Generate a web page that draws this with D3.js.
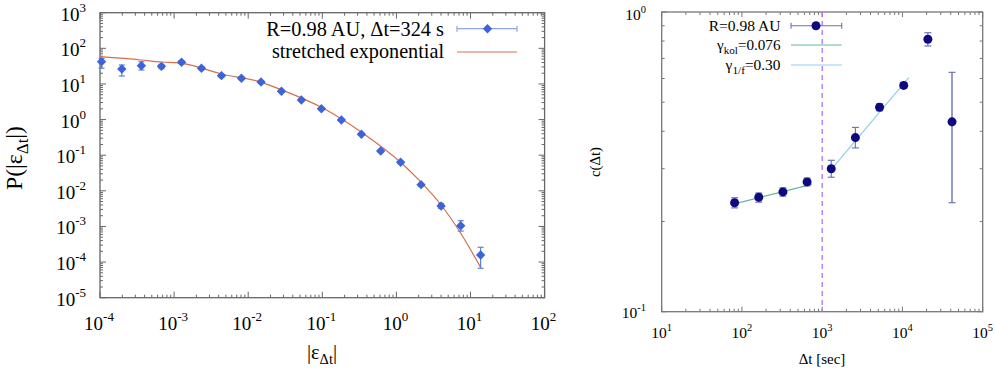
<!DOCTYPE html>
<html><head><meta charset="utf-8">
<script src="https://cdn.jsdelivr.net/npm/d3@7"></script>
<style>
body{margin:0;background:#fff}
svg{display:block}
text{font-family:"Liberation Serif","DejaVu Serif",serif;fill:#000}
</style>
</head><body>
<svg id="c" width="995" height="376" font-family="Liberation Serif, DejaVu Serif, serif"></svg>
<script>
// ---------- Left panel data: PDF of |eps_dt| ----------
const epsVal = [1.05e-4,1.97e-4,3.62e-4,6.75e-4,1.26e-3,2.34e-3,4.36e-3,8.1e-3,1.49e-2,2.81e-2,5.22e-2,9.73e-2,0.181,0.337,0.614,1.14,2.15,4.01,7.38,13.7];
const pdfVal = [42.2,26.3,32.5,31.2,40.6,27.5,17.1,14.4,11.3,6.22,3.54,2.02,0.973,0.386,0.131,0.0632,0.0149,0.00375,0.00105,0.000158];
const pdfLo  = [27.6,16.7,24.7,27.0,37.0,25.0,15.8,13.3,10.5,5.8,3.3,1.88,0.91,0.36,0.121,0.058,0.0137,0.0032,0.00074,0.000067];
const pdfHi  = [52.0,34.0,42.0,35.5,44.5,30.0,18.5,15.6,12.2,6.7,3.8,2.17,1.04,0.415,0.141,0.068,0.0161,0.0044,0.00145,0.00026];
// stretched exponential curve
const fitEps = [1e-4,3.6e-4,6.75e-4,1.28e-3,4.36e-3,1.48e-2,2.87e-2,9.73e-2,0.330,1.18,2.18,4.01,7.38,13.7];
const fitPdf = [58.2,47.0,41.3,38.0,19.0,11.3,6.76,2.21,0.457,0.0593,0.0169,0.0040,6.43e-4,7.1e-5];
const leftXExp = [-4,-3,-2,-1,0,1,2];
const leftYExp = [-5,-4,-3,-2,-1,0,1,2,3];
const leftLegend = ["R=0.98 AU, \u0394t=324 s", "stretched exponential"];

// ---------- Right panel data: c(dt) ----------
const dtVal = [81,162,324,648,1296,2592,5184,10368,20736,41472];
const cVal  = [0.231,0.241,0.251,0.271,0.300,0.381,0.481,0.569,0.811,0.430];
const cLo   = [0.222,0.232,0.243,0.263,0.281,0.352,0.468,0.556,0.770,0.231];
const cHi   = [0.240,0.249,0.259,0.279,0.320,0.412,0.494,0.582,0.853,0.629];
const kolDt = [81,740];   const kolC = [0.229,0.266];
const oneFDt = [1276,11970]; const oneFC = [0.297,0.604];
const breakDt = 1000;
const rightXExp = [1,2,3,4,5];
const rightYExp = [-1,0];

// ---------- helpers ----------
const svg = d3.select("#c");
function minorVals(domain){
  const out=[];
  const lo=Math.floor(Math.log10(domain[0])), hi=Math.ceil(Math.log10(domain[1]));
  for(let d=lo; d<hi; d++) for(let k=2;k<=9;k++){const v=k*Math.pow(10,d); if(v>domain[0]&&v<domain[1]) out.push(v);}
  return out;
}
function frame(g,x,y,majX,majY,minX,minY,lenMaj,lenMin,col){
  const [x0,x1]=x.range(), [y0,y1]=y.range();
  const ticks=g.append("g").attr("stroke",col).attr("stroke-width",1);
  const vt=(v,len)=>{const px=x(v);
    ticks.append("line").attr("x1",px).attr("x2",px).attr("y1",y0).attr("y2",y0-len);
    ticks.append("line").attr("x1",px).attr("x2",px).attr("y1",y1).attr("y2",y1+len);};
  const ht=(v,len)=>{const py=y(v);
    ticks.append("line").attr("y1",py).attr("y2",py).attr("x1",x0).attr("x2",x0+len);
    ticks.append("line").attr("y1",py).attr("y2",py).attr("x1",x1).attr("x2",x1-len);};
  minX.forEach(v=>vt(v,lenMin)); majX.forEach(v=>vt(v,lenMaj));
  minY.forEach(v=>ht(v,lenMin)); majY.forEach(v=>ht(v,lenMaj));
  g.append("rect").attr("x",x0).attr("y",y1).attr("width",x1-x0).attr("height",y0-y1)
    .attr("fill","none").attr("stroke",col).attr("stroke-width",1.3);
}
function powLabel(g,xp,yp,exp,size,supSize,supDy,anchor){
  const t=g.append("text").attr("x",xp).attr("y",yp).attr("text-anchor",anchor).style("font-size",size+"px");
  t.append("tspan").text("10");
  t.append("tspan").attr("dy",-supDy).style("font-size",supSize+"px").text(String(exp));
  return t;
}
// scale a text (and its tspans) so its natural width equals target
function fit(t,target){
  const w=t.node().getBBox().width; if(!w) return t;
  const f=target/w;
  t.selectAll("tspan").each(function(){
    const s=parseFloat(this.style.fontSize); if(s) this.style.fontSize=(s*f)+"px";
    const dy=this.getAttribute("dy"); if(dy) this.setAttribute("dy",parseFloat(dy)*f);
  });
  t.style("font-size",(parseFloat(t.style("font-size"))*f)+"px");
  return t;
}

// ================= LEFT PANEL =================
const L = svg.append("g");
const lx = d3.scaleLog().domain([1e-4,1e2]).range([100,544.6]);
const ly = d3.scaleLog().domain([1e-5,1e3]).range([297.7,12.7]);
frame(L,lx,ly,leftXExp.map(e=>Math.pow(10,e)),leftYExp.map(e=>Math.pow(10,e)),
      minorVals(lx.domain()),minorVals(ly.domain()),6,3,"#666");

leftXExp.forEach(e=>powLabel(L,lx(Math.pow(10,e))-1,330,e,19,13,9,"middle"));
leftYExp.forEach(e=>powLabel(L,86,ly(Math.pow(10,e))+8,e,19,13,9,"end"));

// axis titles
{
  const t=L.append("text").attr("transform","translate(22,158) rotate(-90)")
    .attr("text-anchor","middle").style("font-size","21px");
  t.append("tspan").text("P(|\u03b5");
  t.append("tspan").attr("dy",5).style("font-size","15px").text("\u0394t");
  t.append("tspan").attr("dy",-5).text("|)");
  fit(t,64);
  const u=L.append("text").attr("x",322).attr("y",359).attr("text-anchor","middle").style("font-size","21px");
  u.append("tspan").text("|\u03b5");
  u.append("tspan").attr("dy",5).style("font-size","15px").text("\u0394t");
  u.append("tspan").attr("dy",-5).text("|");
  fit(u,30);
}

// fit curve
const lineL = d3.line().x(d=>lx(d[0])).y(d=>ly(d[1])).curve(d3.curveMonotoneX);
L.append("path").datum(fitEps.map((v,i)=>[v,fitPdf[i]])).attr("d",lineL)
  .attr("fill","none").attr("stroke","#d66e4e").attr("stroke-width",1.2);

// error bars
const errL = L.append("g").attr("stroke","#5b80e0").attr("stroke-width",1.2);
epsVal.forEach((v,i)=>{
  const px=lx(v);
  errL.append("line").attr("x1",px).attr("x2",px).attr("y1",ly(pdfLo[i])).attr("y2",ly(pdfHi[i]));
  [pdfLo[i],pdfHi[i]].forEach(w=>errL.append("line").attr("x1",px-3).attr("x2",px+3).attr("y1",ly(w)).attr("y2",ly(w)));
});
const diamond = d3.symbol().type(d3.symbolDiamond2).size(56);
epsVal.forEach((v,i)=>{
  L.append("path").attr("d",diamond).attr("transform",`translate(${lx(v)},${ly(pdfVal[i])})`).attr("fill","#3c63d8");
});

// legend
fit(L.append("text").attr("x",444).attr("y",35.5).attr("text-anchor","end").style("font-size","20px").text(leftLegend[0]),178);
fit(L.append("text").attr("x",444).attr("y",58).attr("text-anchor","end").style("font-size","20px").text(leftLegend[1]),172.6);
{
  const lg=L.append("g").attr("stroke","#8ea6ec").attr("stroke-width",1.2);
  lg.append("line").attr("x1",457).attr("x2",517).attr("y1",28.7).attr("y2",28.7);
  lg.append("line").attr("x1",457).attr("x2",457).attr("y1",25.7).attr("y2",31.7);
  lg.append("line").attr("x1",517).attr("x2",517).attr("y1",25.7).attr("y2",31.7);
  L.append("path").attr("d",diamond).attr("transform","translate(487.5,28.7)").attr("fill","#3c63d8");
  L.append("line").attr("x1",457).attr("x2",517).attr("y1",52).attr("y2",52).attr("stroke","#d66e4e").attr("stroke-width",1.2);
}

// ================= RIGHT PANEL =================
const R = svg.append("g");
const rx = d3.scaleLog().domain([10,1e5]).range([661.7,982.7]);
const ry = d3.scaleLog().domain([0.1,1]).range([311.7,12]);
frame(R,rx,ry,rightXExp.map(e=>Math.pow(10,e)),rightYExp.map(e=>Math.pow(10,e)),
      minorVals(rx.domain()),minorVals(ry.domain()),5,3,"#777");

rightXExp.forEach(e=>powLabel(R,rx(Math.pow(10,e)),338,e,15.5,10.5,7,"middle"));
rightYExp.forEach(e=>powLabel(R,646,ry(Math.pow(10,e))+(e===0?8:6.5),e,15.5,10.5,7,"end"));

fit(R.append("text").attr("transform","translate(600,162) rotate(-90)").attr("text-anchor","middle")
  .style("font-size","15px").text("c(\u0394t)"),30);
fit(R.append("text").attr("x",822).attr("y",364).attr("text-anchor","middle").style("font-size","15px").text("\u0394t [sec]"),46.7);

// vertical dashed line
R.append("line").attr("x1",rx(breakDt)).attr("x2",rx(breakDt)).attr("y1",ry(1)).attr("y2",ry(0.1))
  .attr("stroke","#b56cff").attr("stroke-width",1.3).attr("stroke-dasharray","5,4");

// fit lines
const lineR = d3.line().x(d=>rx(d[0])).y(d=>ry(d[1]));
R.append("path").datum(kolDt.map((v,i)=>[v,kolC[i]])).attr("d",lineR).attr("fill","none").attr("stroke","#62b996").attr("stroke-width",1.2);
R.append("path").datum(oneFDt.map((v,i)=>[v,oneFC[i]])).attr("d",lineR).attr("fill","none").attr("stroke","#8fcdef").attr("stroke-width",1.2);

// error bars
const errR = R.append("g").attr("stroke","#7474bb").attr("stroke-width",1.2);
dtVal.forEach((v,i)=>{
  const px=rx(v);
  errR.append("line").attr("x1",px).attr("x2",px).attr("y1",ry(cLo[i])).attr("y2",ry(cHi[i]))
    .attr("stroke-width", i===dtVal.length-1?2:1.2).attr("stroke", i===dtVal.length-1?"#9a9ad2":"#7474bb");
  [cLo[i],cHi[i]].forEach(w=>errR.append("line").attr("x1",px-3.5).attr("x2",px+3.5).attr("y1",ry(w)).attr("y2",ry(w)));
});
dtVal.forEach((v,i)=>{
  R.append("circle").attr("cx",rx(v)).attr("cy",ry(cVal[i])).attr("r",4.5).attr("fill","#0c0a7e");
});

// legend
{
  fit(R.append("text").attr("x",780.5).attr("y",30.5).attr("text-anchor","end").style("font-size","15px").text("R=0.98 AU"),72);
  const t2=R.append("text").attr("x",780.5).attr("y",50).attr("text-anchor","end").style("font-size","15px");
  t2.append("tspan").text("\u03b3");
  t2.append("tspan").attr("dy",4).style("font-size","11px").text("kol");
  t2.append("tspan").attr("dy",-4).text("=0.076");
  fit(t2,65);
  const t3=R.append("text").attr("x",780.5).attr("y",70).attr("text-anchor","end").style("font-size","15px");
  t3.append("tspan").text("\u03b3");
  t3.append("tspan").attr("dy",4).style("font-size","11px").text("1/f");
  t3.append("tspan").attr("dy",-4).text("=0.30");
  fit(t3,56);
  const lg=R.append("g").attr("stroke","#6d6db8").attr("stroke-width",1.1);
  lg.append("line").attr("x1",791).attr("x2",841.7).attr("y1",25.7).attr("y2",25.7);
  lg.append("line").attr("x1",791).attr("x2",791).attr("y1",22.7).attr("y2",28.7);
  lg.append("line").attr("x1",841.7).attr("x2",841.7).attr("y1",22.7).attr("y2",28.7);
  R.append("circle").attr("cx",816).attr("cy",25.7).attr("r",4.5).attr("fill","#0c0a7e");
  R.append("line").attr("x1",791).attr("x2",841.7).attr("y1",45).attr("y2",45).attr("stroke","#62b996").attr("stroke-width",1.2);
  R.append("line").attr("x1",791).attr("x2",841.7).attr("y1",65).attr("y2",65).attr("stroke","#8fcdef").attr("stroke-width",1.2);
}
</script>
</body></html>
